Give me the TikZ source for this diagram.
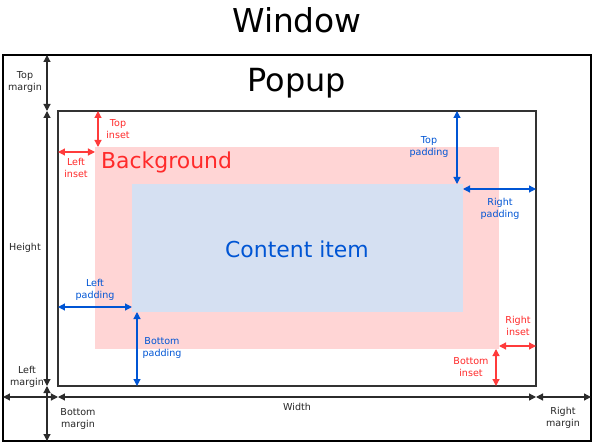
\documentclass[tikz,border=0pt]{standalone}
\usepackage{fontspec}
\setmainfont{DejaVu Sans}
\usetikzlibrary{arrows.meta}
\definecolor{redtxt}{HTML}{FF2A2A}
\definecolor{redarr}{HTML}{FF3B3B}
\definecolor{pinkfill}{HTML}{FFD5D5}
\definecolor{bluetxt}{HTML}{0055D4}
\definecolor{bluefill}{HTML}{D5E0F2}
\definecolor{frame}{HTML}{333333}
\definecolor{dimgray}{HTML}{2B2B2B}
\tikzset{
  box/.style={inner sep=0, outer sep=0},
  dim/.style={line width=1.2bp, {Triangle[length=7bp,width=7bp]}-{Triangle[length=7bp,width=7bp]}},
  lbl/.style={align=center, inner sep=0, font=\fontsize{9.6}{12.4}\selectfont},
  blk/.style={text=black!85},
  red/.style={text=redtxt},
  blu/.style={text=bluetxt},
}
\begin{document}
\begin{tikzpicture}[x=1bp,y=-1bp]
\useasboundingbox (0,0) rectangle (595,444);
% boxes
\node[box, draw=black, line width=1.7bp, minimum width=588bp, minimum height=386bp] (win) at (297,248) {};
\node[box, draw=frame, line width=1.3bp, minimum width=478bp, minimum height=275bp] (popup) at (297,248.5) {};
\node[box, fill=pinkfill, minimum width=404bp, minimum height=202bp] (bg) at (297,248) {};
\node[box, fill=bluefill, minimum width=331bp, minimum height=128bp] (content) at (297.5,248) {};
% titles
\node[inner sep=0, font=\fontsize{33}{33}\selectfont] (twin) at (297,20) {Window};
\node[inner sep=0, font=\fontsize{32}{32}\selectfont] (tpop) at (297,83) {Popup};
\node[inner sep=0, font=\fontsize{22}{22}\selectfont, text=redtxt, anchor=west] (tbg) at (101,162) {Background};
\node[inner sep=0, font=\fontsize{22}{22}\selectfont, text=bluetxt] (tcont) at (297,249) {Content item};
% axis coordinates
\coordinate (vx) at (47,0);
\coordinate (hy) at (0,397);
\coordinate (tix) at (98,0);
\coordinate (liy) at (0,152);
\coordinate (tpx) at (457,0);
\coordinate (rpy) at (0,189);
\coordinate (lpy) at (0,307);
\coordinate (bpx) at (137,0);
\coordinate (riy) at (0,346);
\coordinate (bix) at (496,0);
% margins / size (black)
\draw[dim, dimgray] (win.north -| vx) -- (popup.north -| vx);
\draw[dim, dimgray] (popup.north -| vx) -- (popup.south -| vx);
\draw[dim, dimgray] (popup.south -| vx) -- (win.south -| vx);
\draw[dim, dimgray] (win.west |- hy) -- (popup.west |- hy);
\draw[dim, dimgray] (popup.west |- hy) -- (popup.east |- hy);
\draw[dim, dimgray] (popup.east |- hy) -- (win.east |- hy);
% insets (red)
\draw[dim, redarr] (popup.north -| tix) -- (bg.north -| tix);
\draw[dim, redarr] (popup.west |- liy) -- (bg.west |- liy);
\draw[dim, redarr] (bg.east |- riy) -- (popup.east |- riy);
\draw[dim, redarr] (bg.south -| bix) -- (popup.south -| bix);
% paddings (blue)
\draw[dim, bluetxt] (popup.north -| tpx) -- (content.north -| tpx);
\draw[dim, bluetxt] (content.east |- rpy) -- (popup.east |- rpy);
\draw[dim, bluetxt] (popup.west |- lpy) -- (content.west |- lpy);
\draw[dim, bluetxt] (content.south -| bpx) -- (popup.south -| bpx);
% labels
\node[lbl, blk] (ltm) at (25,82) {Top\\margin};
\node[lbl, blk] (lh) at (25,248) {Height};
\node[lbl, blk] (llm) at (27,377) {Left\\margin};
\node[lbl, blk] (lbm) at (78,419) {Bottom\\margin};
\node[lbl, blk] (lw) at (297,407) {Width};
\node[lbl, blk] (lrm) at (563,418) {Right\\margin};
\node[lbl, red] (lti) at (118,129) {Top\\inset};
\node[lbl, red] (lli) at (76,168) {Left\\inset};
\node[lbl, red] (lri) at (518,326) {Right\\inset};
\node[lbl, red] (lbi) at (471,367) {Bottom\\inset};
\node[lbl, blu] (ltp) at (429,147) {Top\\padding};
\node[lbl, blu] (lrp) at (500,209) {Right\\padding};
\node[lbl, blu] (llp) at (95,290) {Left\\padding};
\node[lbl, blu] (lbp) at (162,348) {Bottom\\padding};
\end{tikzpicture}
\end{document}
